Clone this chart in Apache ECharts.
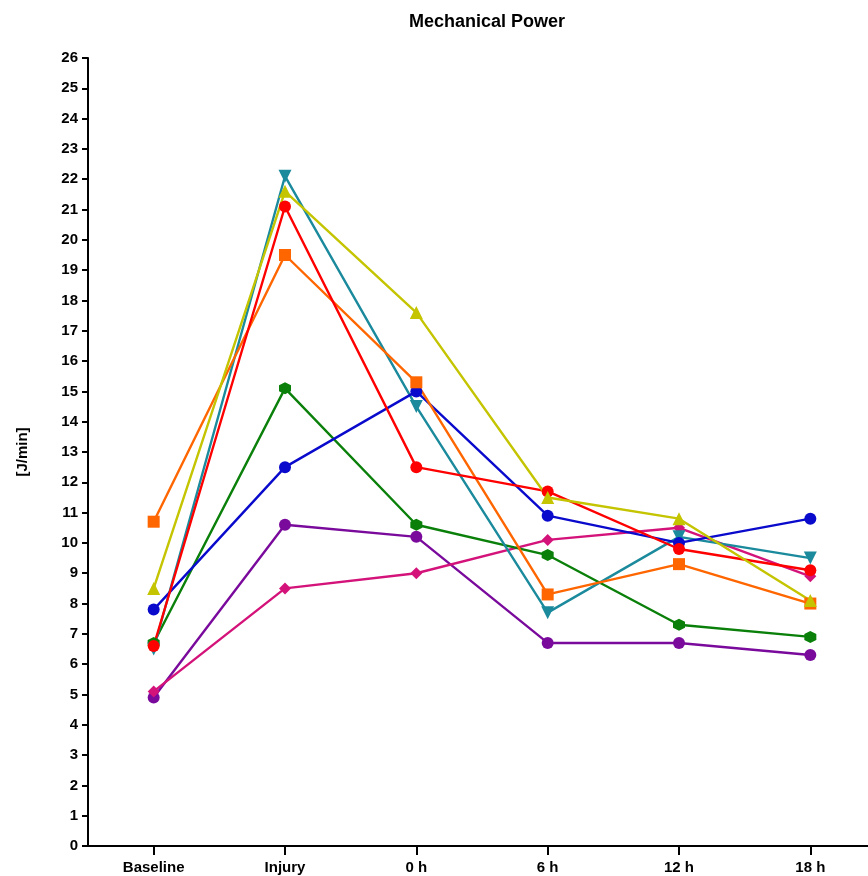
<!DOCTYPE html>
<html>
<head>
<meta charset="utf-8">
<script src="https://cdn.jsdelivr.net/npm/echarts@6/dist/echarts.min.js"></script>
<style>
  html, body { margin: 0; padding: 0; background: #fff; overflow: hidden; }
  /* the plot runs past the right edge of the window, as in the original */
  #chart { width: 876px; height: 876px; }
</style>
</head>
<body>
<div id="chart"></div>
<script>
// categories (time points)
const categories = ['Baseline', 'Injury', '0 h', '6 h', '12 h', '18 h']

// one array per animal, values in J/min
const purpleVals = [4.9, 10.6, 10.2, 6.7, 6.7, 6.3]
const magentaVals = [5.1, 8.5, 9.0, 10.1, 10.5, 8.9]
const greenVals = [6.7, 15.1, 10.6, 9.6, 7.3, 6.9]
const tealVals = [6.5, 22.1, 14.5, 7.7, 10.2, 9.5]
const blueVals = [7.8, 12.5, 15.0, 10.9, 10.0, 10.8]
const orangeVals = [10.7, 19.5, 15.3, 8.3, 9.3, 8.0]
const redVals = [6.6, 21.1, 12.5, 11.7, 9.8, 9.1]
const yellowVals = [8.5, 21.6, 17.6, 11.5, 10.8, 8.1]

const hexagon = 'path://M0,-10 L8.66,-5 L8.66,5 L0,10 L-8.66,5 L-8.66,-5 Z'

// 折线通用样式
function line(name, data, color, symbol, size) {
  return {
    name: name,
    type: 'line',
    data: data,
    color: color,
    symbol: symbol,
    symbolSize: size,
    showAllSymbol: true,
    lineStyle: { width: 2.4, color: color },
    itemStyle: { color: color, opacity: 1 },
    z: 2
  }
}

const option = {
  animation: false,
  backgroundColor: '#fff',
  title: {
    text: 'Mechanical Power',
    left: 482,
    textAlign: 'center',
    top: 8,
    textStyle: {
      fontFamily: 'Liberation Sans, Arial',
      fontWeight: 'bold',
      fontSize: 18,
      color: '#000'
    }
  },
  grid: {
    left: 88,
    top: 58,
    right: 0,
    bottom: 30
  },
  xAxis: {
    type: 'category',
    data: categories,
    boundaryGap: true,
    axisLine: { lineStyle: { color: '#000', width: 2 } },
    axisTick: { show: true, alignWithLabel: true, length: 9, lineStyle: { color: '#000', width: 2 } },
    axisLabel: {
      margin: 14,
      color: '#000',
      fontFamily: 'Liberation Sans, Arial',
      fontWeight: 'bold',
      fontSize: 15
    }
  },
  yAxis: {
    type: 'value',
    min: 0,
    max: 26,
    interval: 1,
    name: '[J/min]',
    nameLocation: 'middle',
    nameGap: 58,
    nameRotate: 90,
    nameTextStyle: {
      color: '#000',
      fontFamily: 'Liberation Sans, Arial',
      fontWeight: 'bold',
      fontSize: 15
    },
    splitLine: { show: false },
    axisLine: { show: true, lineStyle: { color: '#000', width: 2 } },
    axisTick: { show: true, length: 6, lineStyle: { color: '#000', width: 2 } },
    axisLabel: {
      margin: 10,
      color: '#000',
      fontFamily: 'Liberation Sans, Arial',
      fontWeight: 'bold',
      fontSize: 15
    }
  },
  series: [
    line('purple', purpleVals, '#7A0A9C', 'circle', 12),
    line('magenta', magentaVals, '#D4137A', 'diamond', 12),
    line('green', greenVals, '#0A800A', hexagon, 12),
    line('teal', tealVals, '#1A8A9C', 'path://M-10,-8 L10,-8 L0,10 Z', 13),
    line('blue', blueVals, '#0A0ACC', 'circle', 12),
    line('orange', orangeVals, '#FF6600', 'rect', 12),
    line('red', redVals, '#FF0000', 'circle', 12),
    line('yellow', yellowVals, '#C4C400', 'triangle', 13)
  ]
}

const myChart = echarts.init(document.getElementById('chart'))
myChart.setOption(option)
</script>
</body>
</html>
